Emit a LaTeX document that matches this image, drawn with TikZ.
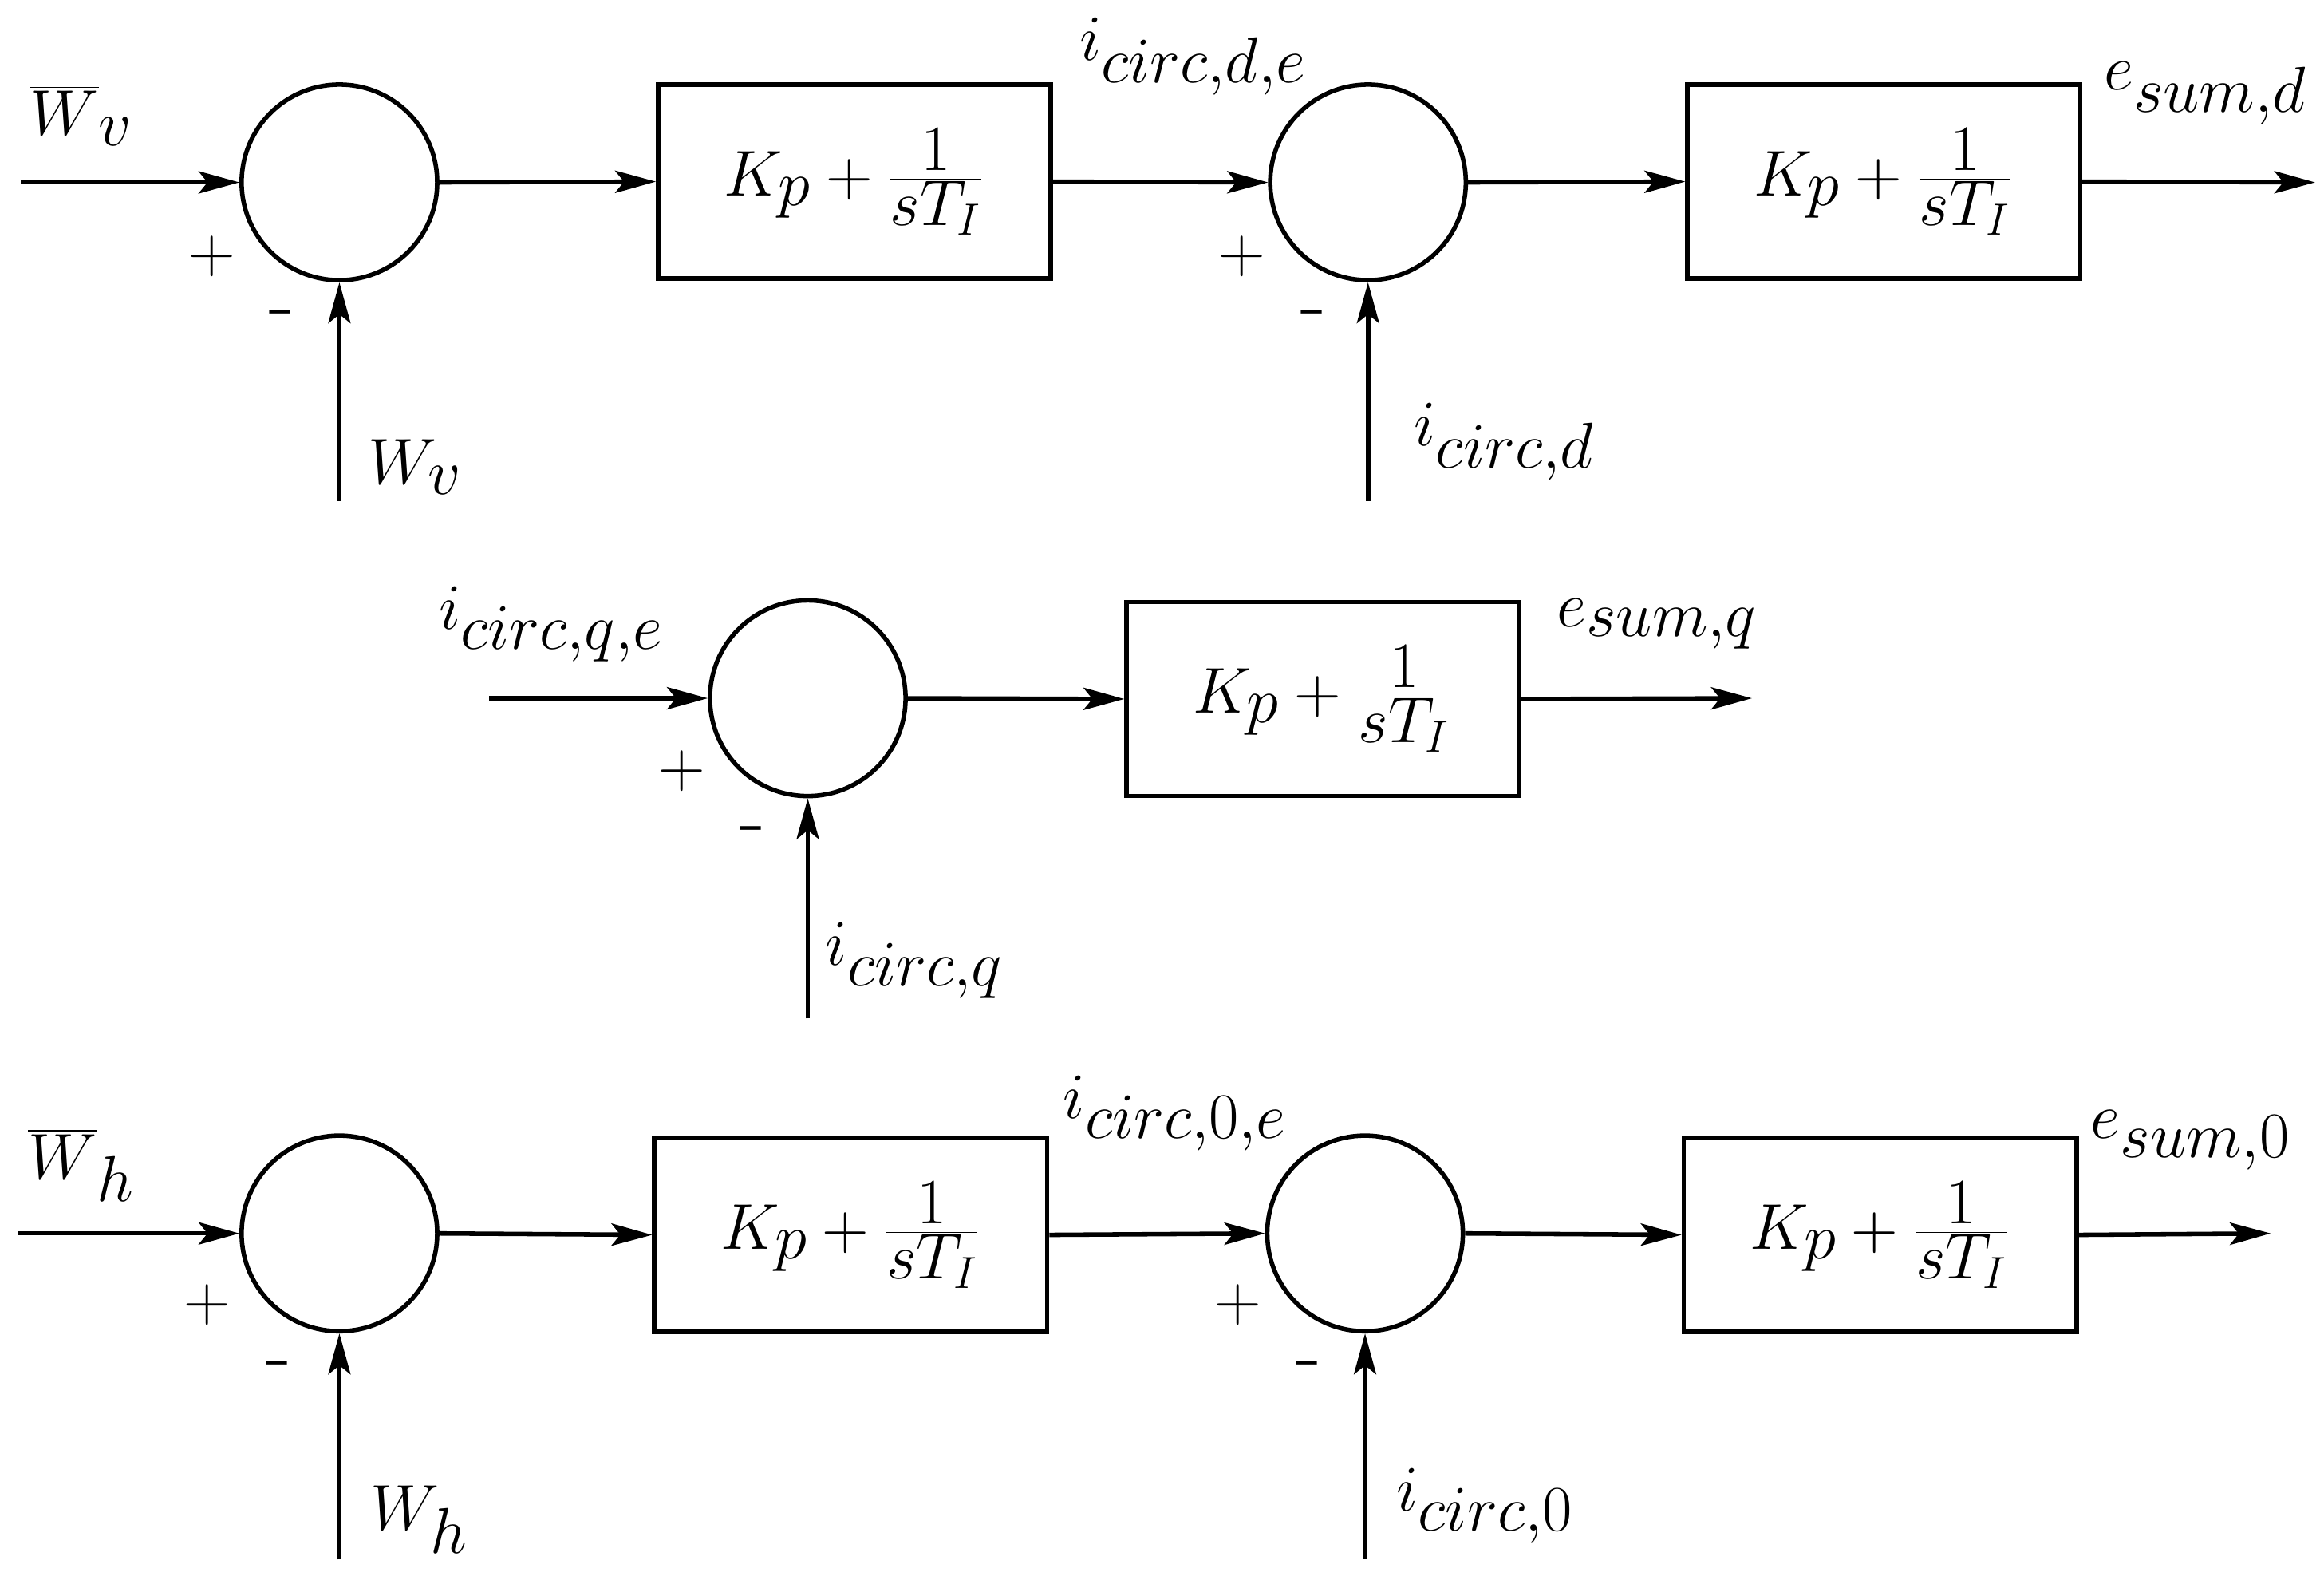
\documentclass[tikz,border=0pt]{standalone}
\usetikzlibrary{arrows.meta}
\begin{document}
\begin{tikzpicture}[x=0.02cm,y=-0.02cm,line width=1.7pt,
  sum/.style={circle,draw,minimum size=2.64cm,inner sep=0},
  blk/.style={draw,minimum width=5.3cm,minimum height=2.62cm,inner sep=0,font=\fontsize{37}{44}\selectfont},
  lab/.style={font=\fontsize{35}{42}\selectfont},
  sgn/.style={font=\fontsize{32}{38}\selectfont},
  arr/.style={-{Stealth[length=0.55cm,width=0.3cm,inset=0.12cm]}}]
\useasboundingbox (0,0) rectangle (1568,1063);
\newcommand{\tf}{$K_p+\frac{1}{sT_I}$}
% row 1
\node[sum] (s1) at (229,123) {};
\node[blk] (b1) at (576.5,122.5) {\tf};
\node[sum] (s2) at (923,123) {};
\node[blk] (b2) at (1271,122.5) {\tf};
\coordinate (i1) at (14,123); \coordinate (f1) at (229,338);
\coordinate (f2) at (923,338); \coordinate (o1) at (1562,123);
\draw[arr] (i1) -- (s1.west);
\draw[arr] (s1.east) -- (b1.west);
\draw[arr] (b1.east) -- (s2.west);
\draw[arr] (s2.east) -- (b2.west);
\draw[arr] (b2.east) -- (o1);
\draw[arr] (f1) -- (s1.south);
\draw[arr] (f2) -- (s2.south);
\node[lab] (l1) at (55,78) {$\overline{W}_v$};
\node[sgn] (p1) at (143,173) {$+$};
\node[sgn] (m1) at (190,216) {-};
\node[lab] (l2) at (280,315) {$W_v$};
\node[lab] (l3) at (805,38) {$i_{circ,d,e}$};
\node[sgn] (p2) at (838,173) {$+$};
\node[sgn] (m2) at (886,216) {-};
\node[lab] (l4) at (1015,298) {$i_{circ,d}$};
\node[lab] (l5) at (1488,63) {$e_{sum,d}$};
% row 2
\node[sum] (s3) at (545,471) {};
\node[blk] (b3) at (892.5,471.5) {\tf};
\coordinate (i3) at (330,471); \coordinate (f3) at (545,687); \coordinate (o3) at (1182,471);
\draw[arr] (i3) -- (s3.west);
\draw[arr] (s3.east) -- (b3.west);
\draw[arr] (b3.east) -- (o3);
\draw[arr] (f3) -- (s3.south);
\node[lab] (l6) at (372,421) {$i_{circ,q,e}$};
\node[sgn] (p3) at (460,520) {$+$};
\node[sgn] (m3) at (508,564) {-};
\node[lab] (l7) at (617,648) {$i_{circ,q}$};
\node[lab] (l8) at (1118,421) {$e_{sum,q}$};
% row 3
\node[sum] (s4) at (229,832) {};
\node[blk] (b4) at (574,833) {\tf};
\node[sum] (s5) at (921,832) {};
\node[blk] (b5) at (1268.5,833) {\tf};
\coordinate (i4) at (12,832); \coordinate (f4) at (229,1052);
\coordinate (f5) at (921,1052); \coordinate (o4) at (1532,832);
\draw[arr] (i4) -- (s4.west);
\draw[arr] (s4.east) -- (b4.west);
\draw[arr] (b4.east) -- (s5.west);
\draw[arr] (s5.east) -- (b5.west);
\draw[arr] (b5.east) -- (o4);
\draw[arr] (f4) -- (s4.south);
\draw[arr] (f5) -- (s5.south);
\node[lab] (l9) at (55,786) {$\overline{W}_h$};
\node[sgn] (p4) at (140,880) {$+$};
\node[sgn] (m4) at (188,925) {-};
\node[lab] (l10) at (283,1025) {$W_h$};
\node[lab] (l11) at (793,751) {$i_{circ,0,e}$};
\node[sgn] (p5) at (835,880) {$+$};
\node[sgn] (m5) at (883,925) {-};
\node[lab] (l12) at (1002,1016) {$i_{circ,0}$};
\node[lab] (l13) at (1478,769) {$e_{sum,0}$};
\end{tikzpicture}
\end{document}
